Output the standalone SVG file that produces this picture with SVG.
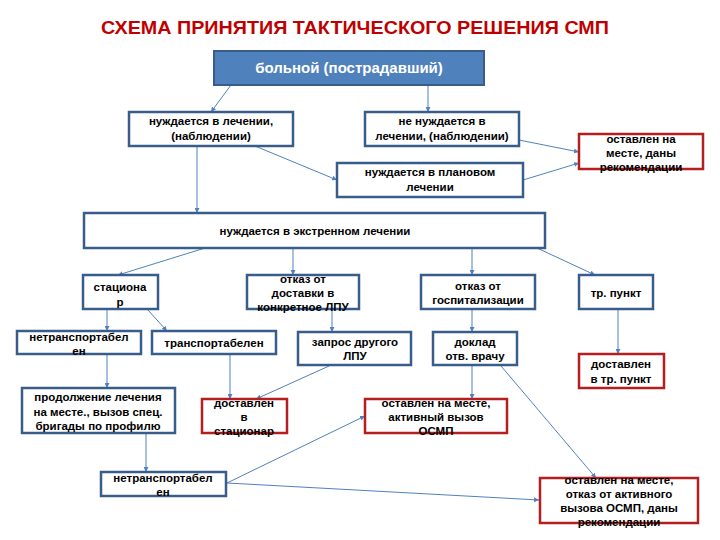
<svg xmlns="http://www.w3.org/2000/svg" width="720" height="540" viewBox="0 0 720 540">
<defs>
<marker id="arr" viewBox="0 0 10 10" refX="10" refY="5" markerWidth="5" markerHeight="5" orient="auto" markerUnits="userSpaceOnUse">
<path d="M0,0 L10,5 L0,10 z" fill="#4F81BD"/>
</marker>
<style>
.b{fill:#fff;stroke:#385D8A;stroke-width:2.5}
.r{fill:#fff;stroke:#B41E1E;stroke-width:2.5}
.t{font-family:"Liberation Sans",Arial,sans-serif;font-weight:bold;font-size:11.5px;fill:#000;text-anchor:middle}
.c line{stroke:#4F81BD;stroke-width:1;marker-end:url(#arr)}
</style>
</defs>
<rect width="720" height="540" fill="#fff"/>
<text x="355" y="34" font-family="'Liberation Sans',Arial,sans-serif" font-weight="bold" font-size="18" fill="#C00000" text-anchor="middle" textLength="508" lengthAdjust="spacingAndGlyphs">СХЕМА ПРИНЯТИЯ ТАКТИЧЕСКОГО РЕШЕНИЯ СМП</text>

<g class="c" id="connectors">
<line x1="231" y1="85" x2="211" y2="112"/>
<line x1="428" y1="85" x2="428" y2="112"/>
<line x1="255" y1="146" x2="337" y2="180"/>
<line x1="519" y1="140" x2="579" y2="152"/>
<line x1="523" y1="180" x2="579" y2="163"/>
<line x1="197" y1="146" x2="197" y2="213"/>
<line x1="205" y1="248" x2="118" y2="275"/>
<line x1="293" y1="248" x2="293" y2="275"/>
<line x1="472" y1="248" x2="472" y2="275"/>
<line x1="537" y1="248" x2="595" y2="275"/>
<line x1="107" y1="309" x2="107" y2="331"/>
<line x1="147" y1="309" x2="167" y2="331"/>
<line x1="332" y1="309" x2="332" y2="332"/>
<line x1="472" y1="309" x2="472" y2="332"/>
<line x1="618" y1="309" x2="618" y2="354"/>
<line x1="107" y1="354" x2="107" y2="388"/>
<line x1="230" y1="354" x2="230" y2="399"/>
<line x1="329" y1="366" x2="256" y2="399"/>
<line x1="472" y1="365" x2="472" y2="399"/>
<line x1="501" y1="366" x2="596" y2="478"/>
<line x1="146" y1="433" x2="146" y2="472"/>
<line x1="227" y1="483" x2="365" y2="416"/>
<line x1="227" y1="483" x2="539" y2="500"/>
</g>

<g id="n0">
<rect x="214" y="51" width="270" height="34" fill="#4F81BD" stroke="#385D8A" stroke-width="2"/>
<text x="349" y="73" font-family="'Liberation Sans',Arial,sans-serif" font-weight="bold" font-size="15" fill="#fff" text-anchor="middle">больной (пострадавший)</text>
</g>
<g id="n1"><rect class="b" x="129" y="112" width="164" height="34"/>
<text class="t" x="211" y="125">нуждается в лечении,</text><text class="t" x="211" y="140">(наблюдении)</text></g>
<g id="n2"><rect class="b" x="365" y="112" width="154" height="34"/>
<text class="t" x="442" y="125">не нуждается в</text><text class="t" x="442" y="140">лечении, (наблюдении)</text></g>
<g id="n3"><rect class="r" x="579" y="134" width="124" height="35"/>
<text class="t" x="641" y="143">оставлен на</text><text class="t" x="641" y="157">месте, даны</text><text class="t" x="641" y="171">рекомендации</text></g>
<g id="n4"><rect class="b" x="337" y="163" width="186" height="34"/>
<text class="t" x="430" y="176">нуждается в плановом</text><text class="t" x="430" y="191">лечении</text></g>
<g id="n5"><rect class="b" x="84" y="213" width="461" height="35"/>
<text class="t" x="315" y="235">нуждается в  экстренном лечении</text></g>
<g id="n6"><rect class="b" x="83" y="275" width="75" height="34"/>
<text class="t" x="120" y="291">стациона</text><text class="t" x="120" y="306">р</text></g>
<g id="n7"><rect class="b" x="247" y="275" width="112" height="34"/>
<text class="t" x="303" y="283">отказ от</text><text class="t" x="303" y="297">доставки в</text><text class="t" x="303" y="311">конкретное ЛПУ</text></g>
<g id="n8"><rect class="b" x="421" y="275" width="114" height="34"/>
<text class="t" x="478" y="290">отказ от</text><text class="t" x="478" y="304">госпитализации</text></g>
<g id="n9"><rect class="b" x="579" y="275" width="74" height="34"/>
<text class="t" x="616" y="297">тр. пункт</text></g>
<g id="n10"><rect class="b" x="17" y="331" width="124" height="23"/>
<text class="t" x="79" y="341">нетранспортабел</text><text class="t" x="79" y="355">ен</text></g>
<g id="n11"><rect class="b" x="152" y="331" width="124" height="23"/>
<text class="t" x="214" y="347">транспортабелен</text></g>
<g id="n12"><rect class="b" x="298" y="332" width="113" height="33"/>
<text class="t" x="355" y="346">запрос другого</text><text class="t" x="355" y="360">ЛПУ</text></g>
<g id="n13"><rect class="b" x="433" y="332" width="84" height="33"/>
<text class="t" x="475" y="346">доклад</text><text class="t" x="475" y="360">отв. врачу</text></g>
<g id="n14"><rect class="r" x="579" y="354" width="85" height="34"/>
<text class="t" x="621" y="368">доставлен</text><text class="t" x="621" y="383">в тр. пункт</text></g>
<g id="n15"><rect class="b" x="22" y="388" width="153" height="45"/>
<text class="t" x="98" y="401">продолжение лечения</text><text class="t" x="98" y="416">на месте., вызов спец.</text><text class="t" x="98" y="430">бригады по профилю</text></g>
<g id="n16"><rect class="r" x="202" y="399" width="85" height="34"/>
<text class="t" x="244" y="407">доставлен</text><text class="t" x="244" y="421">в</text><text class="t" x="244" y="435">стационар</text></g>
<g id="n17"><rect class="r" x="365" y="399" width="142" height="34"/>
<text class="t" x="436" y="407">оставлен на месте,</text><text class="t" x="436" y="421">активный вызов</text><text class="t" x="436" y="435">ОСМП</text></g>
<g id="n18"><rect class="b" x="101" y="472" width="125" height="24"/>
<text class="t" x="163" y="482">нетранспортабел</text><text class="t" x="163" y="496">ен</text></g>
<g id="n19"><rect class="r" x="540" y="478" width="158" height="45"/>
<text class="t" x="619" y="484">оставлен на месте,</text><text class="t" x="619" y="498">отказ от активного</text><text class="t" x="619" y="512">вызова ОСМП, даны</text><text class="t" x="619" y="526">рекомендации</text></g>
</svg>
